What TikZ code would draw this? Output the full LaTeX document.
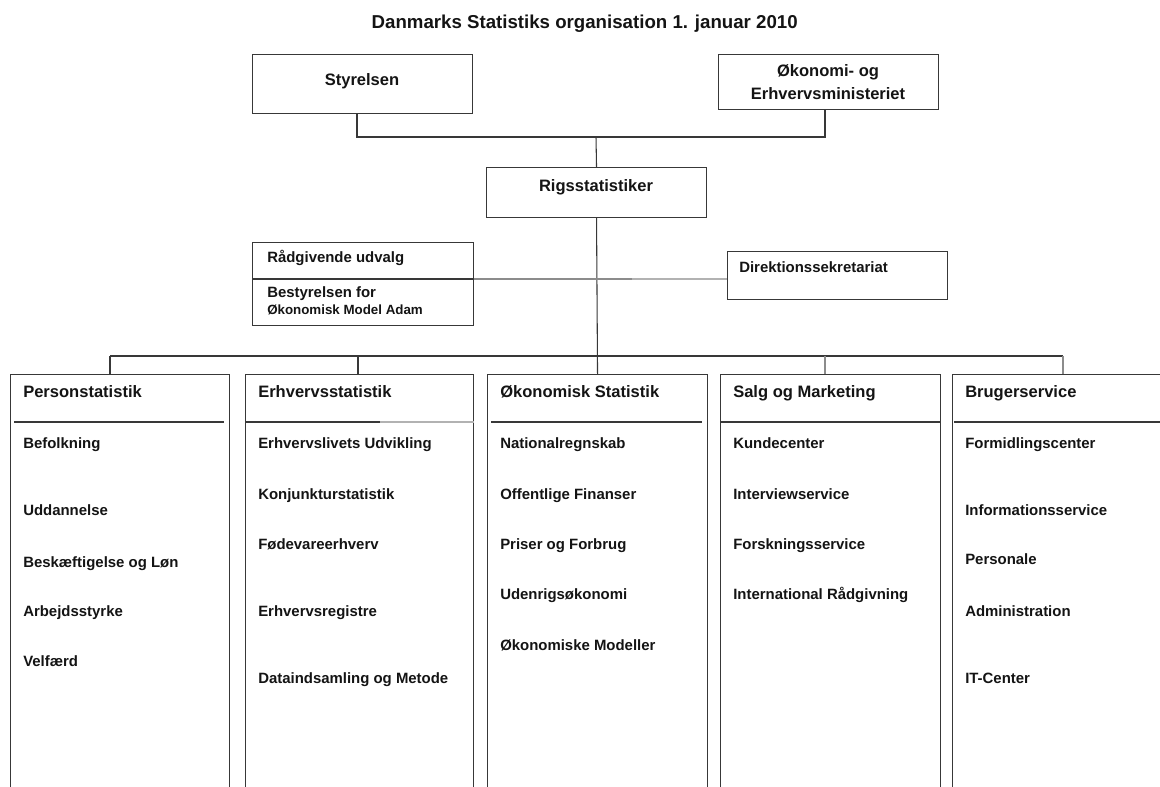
\documentclass[tikz,border=0pt]{standalone}
\usepackage{fontspec}
\setmainfont{Liberation Sans}
\begin{document}
\begin{tikzpicture}[x=0.75pt,y=-0.75pt,
  lc/.style={draw=black!78, line width=0.8pt},
  box/.style={lc, rectangle, inner sep=0pt, anchor=north west},
  hd/.style={anchor=base west, font=\fontsize{12.4}{14}\selectfont\bfseries, text=black!92, inner sep=0pt},
  itm/.style={anchor=base west, font=\fontsize{11.2}{13}\selectfont\bfseries, text=black!92, inner sep=0pt},
  ctr/.style={anchor=base, font=\fontsize{12.4}{14}\selectfont\bfseries, text=black!92, inner sep=0pt},
  conn/.style={draw=black!78, line width=0.8pt},
  grey/.style={draw=black!45, line width=0.8pt},
  lgrey/.style={draw=black!30, line width=0.8pt}]
\useasboundingbox (0,0) rectangle (1160,787);
\fill[white] (0,0) rectangle (1160,787);
\clip (0,0) rectangle (1160,787);

% title
\node[anchor=base east, inner sep=0pt, font=\fontsize{14}{17}\selectfont\bfseries, text=black!92] (title) at (798,29) {Danmarks Statistiks organisation 1. januar 2010};

% top boxes
\node[box, minimum width=165pt, minimum height=44.25pt] (styr) at (252,54) {};
\node[ctr] (styrT) at (362,86) {Styrelsen};
\node[box, minimum width=165pt, minimum height=41.25pt] (oem) at (718,54) {};
\node[ctr] (oemT1) at (828,77) {Økonomi- og};
\node[ctr] (oemT2) at (828,100) {Erhvervsministeriet};
\node[box, minimum width=165pt, minimum height=37.5pt] (rigs) at (486,167) {};
\node[ctr] (rigsT) at (596,192) {Rigsstatistiker};

% staff boxes
\node[box, minimum width=165.75pt, minimum height=62.25pt] (rad) at (252,242) {};
\node[itm] (radT1) at (267,263) {Rådgivende udvalg};
\node[itm] (radT2) at (267,298) {Bestyrelsen for};
\node[anchor=base west, inner sep=0pt, font=\fontsize{10}{12}\selectfont\bfseries, text=black!92] (radT3) at (267,315) {Økonomisk Model Adam};
\node[box, minimum width=165pt, minimum height=36pt] (dir) at (727,251) {};
\node[itm] (dirT) at (739,273) {Direktionssekretariat};

% division boxes
\node[box, minimum width=164.25pt, minimum height=327pt] (pers) at (10,374) {};
\node[box, minimum width=171pt, minimum height=327pt] (erh) at (245,374) {};
\node[box, minimum width=165pt, minimum height=327pt] (oes) at (487,374) {};
\node[box, minimum width=165pt, minimum height=327pt] (salg) at (720,374) {};
\node[box, minimum width=171pt, minimum height=327pt] (brug) at (952,374) {};

% connectors top
\coordinate (j1) at (596,137);
\draw[conn] (357,117 |- styr.south) |- (j1);
\draw[conn] (825,0 |- oem.south) |- (j1);
\draw[conn] (j1) -- (rigs.north);
\draw[conn] (rigs.south) -- (oes.north);

% bus
\coordinate (busL) at (110,356);
\coordinate (busR) at (1063,356);
\draw[conn] (busL) -- (busR);
\draw[conn] (busL) -- (busL |- pers.north);
\draw[conn] (358,356) -- (358,0 |- erh.north);
\draw[grey] (825,356) -- (825,0 |- salg.north);
\draw[grey] (busR) -- (busR |- brug.north);

% staff line
\coordinate (sl) at (632,279);
\draw[conn] (rad.west |- sl) -- (rad.east |- sl);
\draw[grey] (rad.east |- sl) -- (sl);
\draw[lgrey] (sl) -- (dir.west |- sl);

% header dividers
\draw[conn] (14,422) -- (224,422);
\draw[conn] (erh.west |- 0,422) -- (380,422);
\draw[lgrey] (380,422) -- (erh.east |- 0,422);
\draw[conn] (491,422) -- (702,422);
\draw[conn] (salg.west |- 0,422) -- (salg.east |- 0,422);
\draw[conn] (954,422) -- (1160,422);

% Personstatistik
\node[hd] (p0) at (23,398) {Personstatistik};
\node[itm] (p1) at (23,449) {Befolkning};
\node[itm] (p2) at (23,516) {Uddannelse};
\node[itm] (p3) at (23,567) {Beskæftigelse og Løn};
\node[itm] (p4) at (23,616) {Arbejdsstyrke};
\node[itm] (p5) at (23,666) {Velfærd};

% Erhvervsstatistik
\node[hd] (e0) at (258,398) {Erhvervsstatistik};
\node[itm] (e1) at (258,449) {Erhvervslivets Udvikling};
\node[itm] (e2) at (258,499) {Konjunkturstatistik};
\node[itm] (e3) at (258,549) {Fødevareerhverv};
\node[itm] (e4) at (258,616) {Erhvervsregistre};
\node[itm] (e5) at (258,683) {Dataindsamling og Metode};

% Økonomisk Statistik
\node[hd] (o0) at (500,398) {Økonomisk Statistik};
\node[itm] (o1) at (500,449) {Nationalregnskab};
\node[itm] (o2) at (500,499) {Offentlige Finanser};
\node[itm] (o3) at (500,549) {Priser og Forbrug};
\node[itm] (o4) at (500,599) {Udenrigsøkonomi};
\node[itm] (o5) at (500,650) {Økonomiske Modeller};

% Salg og Marketing
\node[hd] (s0) at (733,398) {Salg og Marketing};
\node[itm] (s1) at (733,449) {Kundecenter};
\node[itm] (s2) at (733,499) {Interviewservice};
\node[itm] (s3) at (733,549) {Forskningsservice};
\node[itm] (s4) at (733,599) {International Rådgivning};

% Brugerservice
\node[hd] (b0) at (965,398) {Brugerservice};
\node[itm] (b1) at (965,449) {Formidlingscenter};
\node[itm] (b2) at (965,516) {Informationsservice};
\node[itm] (b3) at (965,565) {Personale};
\node[itm] (b4) at (965,616) {Administration};
\node[itm] (b5) at (965,683) {IT-Center};
\end{tikzpicture}
\end{document}
